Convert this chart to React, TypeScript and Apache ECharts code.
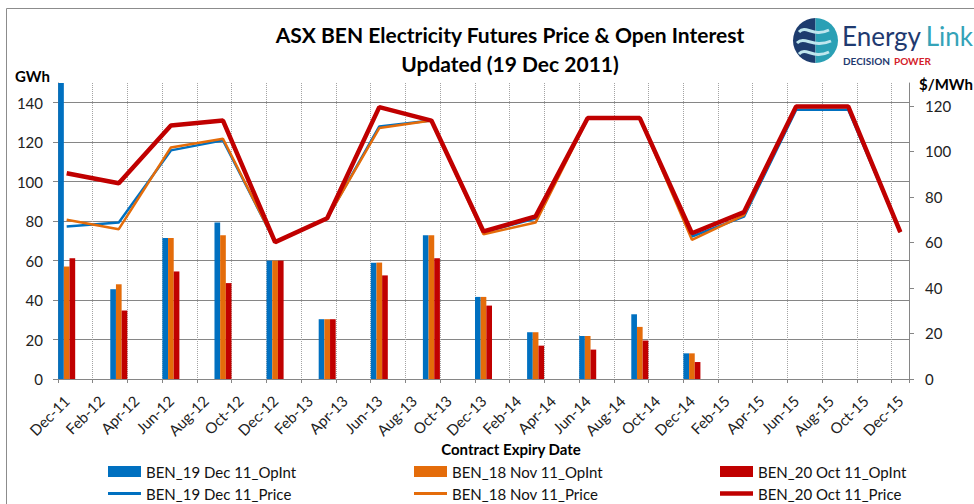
import React, { useEffect, useRef } from "react";
import * as echarts from "echarts";

// Quarterly contract expiries that carry data
const quarters = [
  "Dec-11", "Mar-12", "Jun-12", "Sep-12", "Dec-12", "Mar-13", "Jun-13", "Sep-13",
  "Dec-13", "Mar-14", "Jun-14", "Sep-14", "Dec-14", "Mar-15", "Jun-15", "Sep-15", "Dec-15",
];

// Open interest (GWh, left axis)
const opInt19Dec = [150, 45.5, 71.5, 79.3, 60, 30.3, 58.9, 72.9, 41.6, 23.7, 21.8, 32.8, 13, null, null, null, null];
const opInt18Nov = [57, 48, 71.5, 72.8, 60, 30.3, 59, 72.9, 41.6, 23.7, 21.8, 26.4, 13, null, null, null, null];
const opInt20Oct = [61.2, 34.7, 54.5, 48.6, 60, 30.3, 52.5, 61.2, 37.2, 16.9, 14.9, 19.5, 8.6, null, null, null, null];

// Prices ($/MWh, right axis)
const price19Dec = [67.0, 68.7, 100.4, 104.8, 60.1, 70.5, 110.9, 113.5, 64.5, 70.5, 114.6, 114.6, 62.6, 71.3, 118.2, 118.2, 64.5];
const price18Nov = [69.9, 65.8, 101.7, 105.5, 60.1, 70.5, 110.2, 113.5, 63.6, 68.7, 114.3, 114.6, 61.1, 72.0, 119.5, 119.5, 64.5];
const price20Oct = [90.4, 86.0, 111.3, 113.5, 60.1, 70.6, 119.4, 113.5, 64.8, 71.4, 114.6, 114.6, 64.0, 73.3, 119.7, 119.7, 64.5];

const seriesNames = [
  "BEN_19 Dec 11_OpInt",
  "BEN_18 Nov 11_OpInt",
  "BEN_20 Oct 11_OpInt",
  "BEN_19 Dec 11_Price",
  "BEN_18 Nov 11_Price",
  "BEN_20 Oct 11_Price",
];

const leftTicks = { min: 0, max: 150, interval: 20 };
const rightTicks = { min: 0, max: 130, interval: 20 };

const monthAbbr = ["Jan", "Feb", "Mar", "Apr", "May", "Jun", "Jul", "Aug", "Sep", "Oct", "Nov", "Dec"];
// Monthly date axis from Dec-11 to Dec-15
const months: string[] = [];
for (let i = 0; i < 49; i++) {
  const m = (11 + i) % 12;
  const y = 11 + Math.floor((11 + i) / 12);
  months.push(`${monthAbbr[m]}-${y}`);
}

function spread(values: (number | null)[]) {
  const out: (number | null)[] = months.map(() => null);
  quarters.forEach((q, i) => {
    out[months.indexOf(q)] = values[i];
  });
  return out;
}

const BLUE = "#0070c0";
const ORANGE = "#e46c0a";
const RED = "#c00000";
const FONT = "Lato, 'Open Sans', sans-serif";

export default function App() {
  const ref = useRef<HTMLDivElement>(null);
  useEffect(() => {
    if (!ref.current) return;
    const chart = echarts.init(ref.current, undefined, { renderer: "svg" });
    const legendCommon = {
      padding: 0,
      itemWidth: 33,
      selectedMode: false,
      icon: "rect",
      textStyle: { fontFamily: FONT, fontSize: 15, color: "#111" },
    };
    const legendPos = [
      [108, 464], [414, 464], [720, 464],
      [108, 486], [414, 486], [720, 486],
    ];
    const legendIconH = [11, 11, 11, 3, 3, 4.5];
    const option: any = {
      animation: false,
      backgroundColor: "#fff",
      title: {
        text: "ASX BEN Electricity Futures Price & Open Interest\nUpdated (19 Dec 2011)",
        left: 505,
        top: 15,
        textAlign: "center",
        textStyle: { fontFamily: FONT, fontWeight: "bold", fontSize: 21, lineHeight: 29, color: "#000" },
      },
      legend: seriesNames.map((n, i) => ({
        ...legendCommon,
        data: [n],
        left: legendPos[i][0],
        top: legendPos[i][1],
        itemHeight: legendIconH[i],
      })),
      grid: { left: 58, right: 65, top: 83, bottom: 125, containLabel: false },
      xAxis: {
        type: "category",
        data: months,
        boundaryGap: true,
        axisLine: { show: true, lineStyle: { color: "#868686", width: 1 } },
        axisTick: { show: true, interval: 1, length: 4, lineStyle: { color: "#868686" } },
        axisLabel: {
          interval: 1,
          rotate: 45,
          margin: 19,
          fontFamily: FONT,
          fontSize: 15,
          color: "#222",
        },
        splitLine: { show: true, interval: 1, lineStyle: { color: "#a3a3a3", type: "dotted", width: 1 } },
      },
      yAxis: [
        {
          type: "value",
          position: "left",
          ...leftTicks,
          axisLine: { show: true, lineStyle: { color: "#868686" } },
          axisTick: { show: true, length: 5, lineStyle: { color: "#868686" } },
          axisLabel: { showMaxLabel: false, margin: 15, fontFamily: FONT, fontSize: 15, color: "#222" },
          splitLine: { show: true, showMaxLine: false, lineStyle: { color: "#868686", width: 1 } },
        },
        {
          type: "value",
          position: "right",
          ...rightTicks,
          axisLine: { show: true, lineStyle: { color: "#868686" } },
          axisTick: { show: true, length: 5, lineStyle: { color: "#868686" } },
          axisLabel: { showMaxLabel: false, margin: 16, fontFamily: FONT, fontSize: 15, color: "#222" },
          splitLine: { show: false },
        },
      ],
      series: [
        { name: seriesNames[0], type: "bar", yAxisIndex: 0, data: spread(opInt19Dec), itemStyle: { color: BLUE }, barGap: "0%", barCategoryGap: "2%" },
        { name: seriesNames[1], type: "bar", yAxisIndex: 0, data: spread(opInt18Nov), itemStyle: { color: ORANGE }, barGap: "0%", barCategoryGap: "2%" },
        { name: seriesNames[2], type: "bar", yAxisIndex: 0, data: spread(opInt20Oct), itemStyle: { color: RED }, barGap: "0%", barCategoryGap: "2%" },
        { name: seriesNames[3], type: "line", yAxisIndex: 1, data: spread(price19Dec), connectNulls: true, symbol: "none", lineStyle: { color: BLUE, width: 2.5 }, itemStyle: { color: BLUE } },
        { name: seriesNames[4], type: "line", yAxisIndex: 1, data: spread(price18Nov), connectNulls: true, symbol: "none", lineStyle: { color: ORANGE, width: 2.5 }, itemStyle: { color: ORANGE } },
        { name: seriesNames[5], type: "line", yAxisIndex: 1, data: spread(price20Oct), connectNulls: true, symbol: "none", lineStyle: { color: RED, width: 4.5 }, itemStyle: { color: RED } },
      ],
      graphic: [
        { type: "rect", z: -1, shape: { x: 6.5, y: 8.5, width: 1100, height: 1100 }, style: { fill: "none", stroke: "#8c8c8c", lineWidth: 1 } },
        { type: "text", x: 15, y: 76, style: { text: "GWh", fontFamily: FONT, fontWeight: "bold", fontSize: 15, fill: "#000", textVerticalAlign: "middle" } },
        { type: "text", x: 919, y: 84, style: { text: "$/MWh", fontFamily: FONT, fontWeight: "bold", fontSize: 15, fill: "#000", textVerticalAlign: "middle" } },
        { type: "text", x: 511, y: 449, style: { text: "Contract Expiry Date", fontFamily: FONT, fontWeight: "bold", fontSize: 15, fill: "#000", textAlign: "center", textVerticalAlign: "middle" } },
        // Logo
        { type: "sector", shape: { cx: 815.5, cy: 40.5, r0: 0, r: 22.5, startAngle: Math.PI / 2, endAngle: (3 * Math.PI) / 2 }, style: { fill: "#1d3c6e" } },
        { type: "sector", shape: { cx: 815.5, cy: 40.5, r0: 0, r: 22.5, startAngle: -Math.PI / 2, endAngle: Math.PI / 2 }, style: { fill: "#2aa0b5" } },
        { type: "bezierCurve", shape: { x1: 799, y1: 32, cpx1: 806, cpy1: 24, cpx2: 813, cpy2: 38, x2: 829, y2: 30 }, style: { stroke: "#bfe6ee", lineWidth: 3, fill: "none" } },
        { type: "bezierCurve", shape: { x1: 797, y1: 43, cpx1: 805, cpy1: 35, cpx2: 813, cpy2: 49, x2: 831, y2: 41 }, style: { stroke: "#bfe6ee", lineWidth: 3, fill: "none" } },
        { type: "bezierCurve", shape: { x1: 799, y1: 54, cpx1: 806, cpy1: 46, cpx2: 813, cpy2: 60, x2: 829, y2: 52 }, style: { stroke: "#bfe6ee", lineWidth: 3, fill: "none" } },
        { type: "text", x: 842, y: 49, style: { text: "Energy", fontFamily: FONT, fontSize: 26, fill: "#1f3a70", textVerticalAlign: "bottom" } },
        { type: "text", x: 973, y: 49, style: { text: "Link", fontFamily: FONT, fontSize: 26, fill: "#35a3b8", textAlign: "right", textVerticalAlign: "bottom" } },
        { type: "text", x: 843, y: 61, style: { text: "DECISION", fontFamily: FONT, fontWeight: "bold", fontSize: 10, fill: "#1f3a70", textVerticalAlign: "middle" } },
        { type: "text", x: 894, y: 61, style: { text: "POWER", fontFamily: FONT, fontWeight: "bold", fontSize: 10, fill: "#d4202a", textVerticalAlign: "middle" } },
      ],
    };
    chart.setOption(option);
    return () => chart.dispose();
  }, []);
  return <div ref={ref} style={{ position: "fixed", left: 0, top: 0, width: 974, height: 504 }} />;
}
